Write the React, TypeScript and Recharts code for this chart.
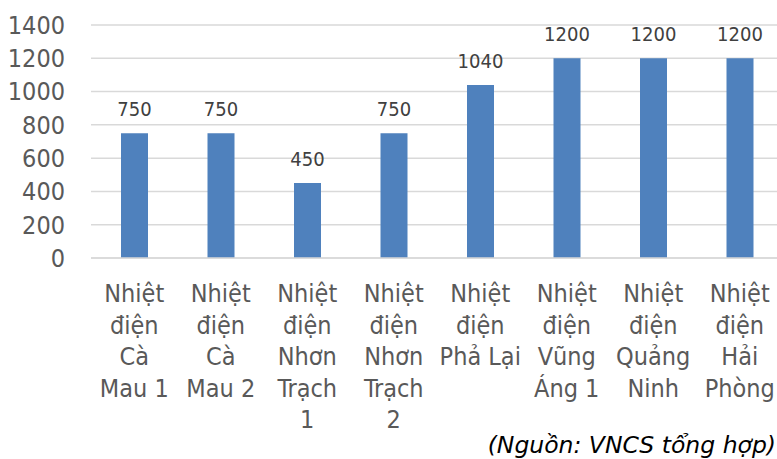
import { BarChart, Bar, XAxis, YAxis, CartesianGrid, LabelList } from 'recharts'

const plants = [
  'Nhiệt\nđiện\nCà\nMau 1',
  'Nhiệt\nđiện\nCà\nMau 2',
  'Nhiệt\nđiện\nNhơn\nTrạch\n1',
  'Nhiệt\nđiện\nNhơn\nTrạch\n2',
  'Nhiệt\nđiện\nPhả Lại',
  'Nhiệt\nđiện\nVũng\nÁng 1',
  'Nhiệt\nđiện\nQuảng\nNinh',
  'Nhiệt\nđiện\nHải\nPhòng',
]
const capacityMW = [750, 750, 450, 750, 1040, 1200, 1200, 1200]
const yTicks = [0, 200, 400, 600, 800, 1000, 1200, 1400]
const sourceNote = '(Nguồn: VNCS tổng hợp)'

const data = plants.map((name, i) => ({ name, value: capacityMW[i] }))

const FONT = '"DejaVu Sans Condensed", "DejaVu Sans", sans-serif'
const TEXT = '#595959'

// tick y already sits 8px under the axis line
const PlantTick = ({ x, y, payload }: any) => {
  const lines = String(payload.value).split('\n')
  return (
    <text x={x} y={y} textAnchor="middle" fill={TEXT} fontSize={25} fontFamily={FONT}>
      {lines.map((line: string, i: number) => (
        <tspan key={i} x={x} y={y + 36 + i * 31.5}>{line}</tspan>
      ))}
    </text>
  )
}

export default function App() {
  return (
    <div style={{ position: 'absolute', left: 0, top: 0, width: 777, height: 459, overflow: 'hidden', background: '#fff' }}>
      <BarChart width={800} height={459} data={data} margin={{ top: 25, right: 17, left: 0, bottom: 0 }}>
        <CartesianGrid vertical={false} stroke="#D9D9D9" strokeWidth={1.5} />
        <XAxis
          dataKey="name"
          interval={0}
          height={201}
          axisLine={{ stroke: '#D9D9D9', strokeWidth: 1.5 }}
          tickLine={false}
          tick={<PlantTick />}
        />
        <YAxis
          domain={[0, 1400]}
          ticks={yTicks}
          width={91}
          axisLine={false}
          tickLine={false}
          tickSize={0}
          tickMargin={26}
          tick={{ fill: TEXT, fontSize: 25, fontFamily: FONT }}
        />
        <Bar dataKey="value" fill="#4F81BD" barSize={27} isAnimationActive={false}>
          <LabelList dataKey="value" position="top" offset={17} fill="#404040" fontSize={20} fontFamily={FONT} />
        </Bar>
      </BarChart>
      <div
        style={{
          position: 'absolute',
          right: 1,
          top: 431,
          fontFamily: '"DejaVu Sans", sans-serif',
          fontStyle: 'italic',
          fontSize: 23.5,
          color: '#000',
          whiteSpace: 'nowrap',
        }}
      >
        {sourceNote}
      </div>
    </div>
  )
}
